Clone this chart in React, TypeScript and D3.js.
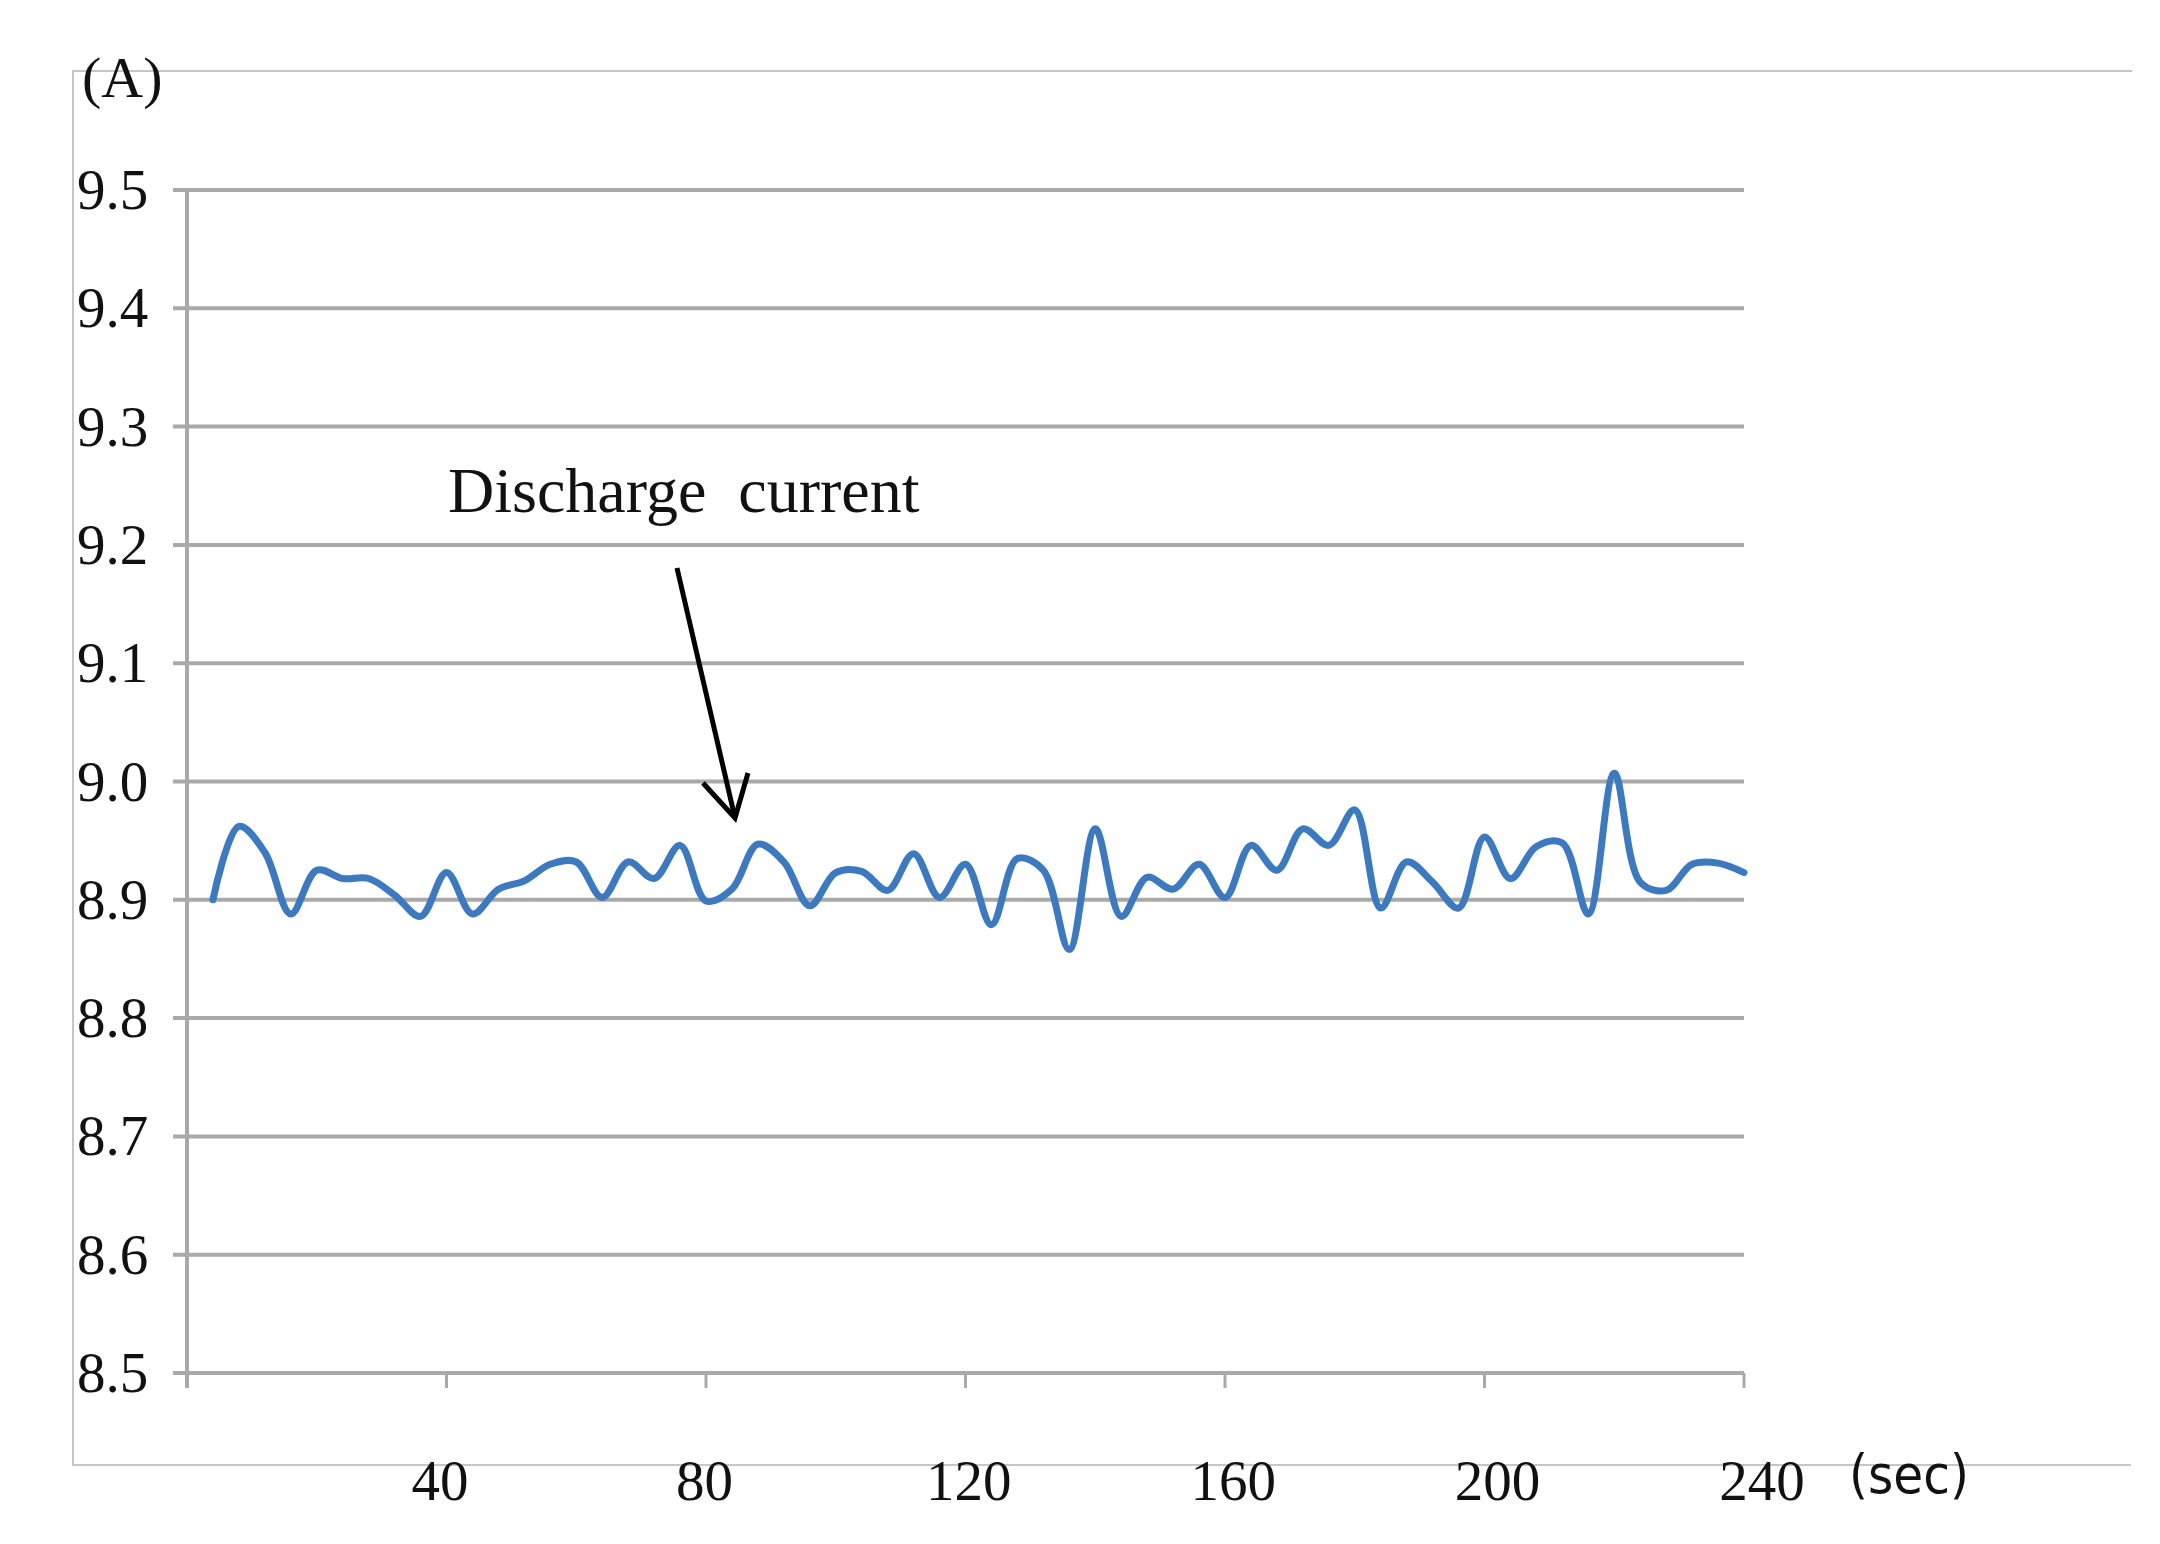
import React from "react";
import * as d3 from "d3";

const times: number[] = [
  4, 8, 12, 16, 20, 24, 28, 32, 36, 40, 44, 48, 52, 56, 60, 64, 68, 72, 76, 80,
  84, 88, 92, 96, 100, 104, 108, 112, 116, 120, 124, 128, 132, 136, 140, 144, 148, 152, 156, 160,
  164, 168, 172, 176, 180, 184, 188, 192, 196, 200, 204, 208, 212, 216, 220, 224, 228, 232, 236, 240,
];
const current: number[] = [
  8.900, 8.962, 8.940, 8.888, 8.925, 8.918, 8.918, 8.904, 8.886, 8.923,
  8.888, 8.909, 8.916, 8.930, 8.932, 8.902, 8.932, 8.918, 8.946, 8.899,
  8.909, 8.947, 8.932, 8.895, 8.923, 8.924, 8.908, 8.939, 8.902, 8.930,
  8.879, 8.935, 8.925, 8.858, 8.960, 8.886, 8.919, 8.909, 8.930, 8.902,
  8.946, 8.925, 8.960, 8.946, 8.976, 8.893, 8.932, 8.915, 8.893, 8.953,
  8.918, 8.945, 8.948, 8.888, 9.007, 8.915, 8.908, 8.930, 8.931, 8.923,
];
const yTicks: number[] = [8.5, 8.6, 8.7, 8.8, 8.9, 9.0, 9.1, 9.2, 9.3, 9.4, 9.5];
const xTicks: number[] = [40, 80, 120, 160, 200, 240];
const yUnit = "(A)";
const xUnit = "(sec)";
const annotation = "Discharge  current";

export default function App() {
  const W = 2160, H = 1544;
  const x = d3.scaleLinear().domain([0, 240]).range([187, 1744]);
  const y = d3.scaleLinear().domain([8.5, 9.5]).range([1373, 190]);
  const labelX = d3.scaleLinear().domain([40, 240]).range([440, 1762]);
  const pts = times.map((t, i) => [t, current[i]] as [number, number]);
  const line = d3
    .line<[number, number]>()
    .x((d) => x(d[0]))
    .y((d) => y(d[1]))
    .curve(d3.curveCatmullRom.alpha(0.5));
  const grid = "#a9a9a9";
  const serif = "'Liberation Serif', 'DejaVu Serif', serif";
  return (
    <svg
      width={W}
      height={H}
      style={{ position: "absolute", left: 0, top: 0, background: "#fff" }}
    >
      <rect x={0} y={0} width={W} height={H} fill="#fff" />
      {/* outer frame */}
      <path d="M2132,71 H73 V1465 H2131" fill="none" stroke="#c6c6c6" strokeWidth={2} />
      {/* gridlines */}
      {yTicks.map((v) => (
        <line key={v} x1={173} x2={x(240)} y1={y(v)} y2={y(v)} stroke={grid} strokeWidth={4} />
      ))}
      {/* y axis */}
      <line x1={x(0)} x2={x(0)} y1={y(9.5)} y2={y(8.5) + 15} stroke={grid} strokeWidth={4} />
      {/* x ticks */}
      {xTicks.map((t) => (
        <line key={t} x1={x(t)} x2={x(t)} y1={y(8.5)} y2={y(8.5) + 15} stroke={grid} strokeWidth={3} />
      ))}
      {/* y labels */}
      {yTicks.map((v) => (
        <text key={v} x={77} y={y(v) + 19} fontFamily={serif} fontSize={57} fill="#111">
          {v.toFixed(1)}
        </text>
      ))}
      {/* x labels */}
      {xTicks.map((t) => (
        <text key={t} x={labelX(t)} y={1500} textAnchor="middle" fontFamily={serif} fontSize={57} fill="#111">
          {t}
        </text>
      ))}
      <text x={1849} y={1493} fontFamily="'DejaVu Sans Condensed', 'Liberation Sans Narrow', sans-serif" fontSize={54} fill="#111">
        {xUnit}
      </text>
      <text x={82} y={97} fontFamily={serif} fontSize={58} fill="#111">
        {yUnit}
      </text>
      {/* data line */}
      <path d={line(pts) || ""} fill="none" stroke="#3d79be" strokeWidth={7} strokeLinejoin="round" strokeLinecap="round" />
      {/* annotation */}
      <text x={448} y={512} fontFamily={serif} fontSize={64} fill="#111" style={{ whiteSpace: "pre" }}>
        {annotation}
      </text>
      <line x1={677} y1={568} x2={735} y2={818} stroke="#000" strokeWidth={5} />
      <path d="M703,783 L735,818 L748,773" fill="none" stroke="#000" strokeWidth={5} strokeLinejoin="miter" />
    </svg>
  );
}
